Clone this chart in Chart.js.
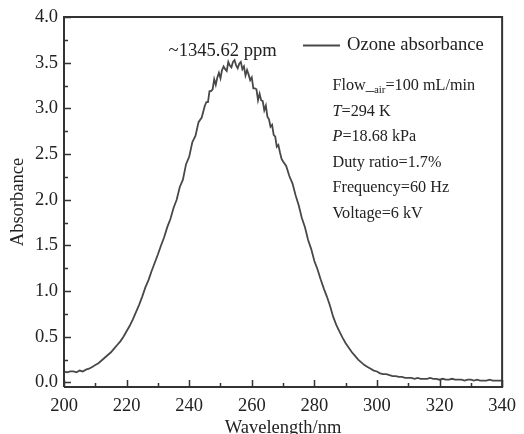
<!DOCTYPE html>
<html>
<head>
<meta charset="utf-8">
<script src="https://cdn.jsdelivr.net/npm/chart.js@4.4.0/dist/chart.umd.min.js"></script>
<style>
  html, body { margin: 0; padding: 0; background: #fff; overflow: hidden; }
  #wrap { width: 524px; height: 444px; }
</style>
</head>
<body>
<div id="wrap"><canvas id="chart" width="524" height="444"></canvas></div>
<script>
// === Dados ===
const wavelengths = [
  200, 201, 202, 203, 204, 205, 206, 207, 208, 209,
  210, 211, 212, 213, 214, 215, 216, 217, 218, 219,
  220, 221, 222, 223, 224, 225, 226, 227, 228, 229,
  230, 231, 232, 233, 234, 235, 236, 237, 238, 239,
  240, 241, 242, 243, 244, 245,
  245.5, 246, 246.5, 247, 247.5, 248, 248.5, 249, 249.5, 250,
  250.5, 251, 251.5, 252, 252.5, 253, 253.5, 254, 254.5, 255,
  255.5, 256, 256.5, 257, 257.5, 258, 258.5, 259, 259.5, 260,
  260.5, 261, 261.5, 262, 262.5, 263, 263.5, 264, 264.5, 265,
  265.5, 266, 266.5, 267, 267.5, 268, 268.5, 269, 269.5, 270,
  271, 272, 273, 274, 275, 276, 277, 278, 279, 280,
  281, 282, 283, 284, 285, 286, 287, 288, 289, 290,
  291, 292, 293, 294, 295, 296, 297, 298, 299, 300,
  301, 302, 303, 304, 305, 306, 307, 308, 309, 310,
  311, 312, 313, 314, 315, 316, 317, 318, 319, 320,
  321, 322, 323, 324, 325, 326, 327, 328, 329, 330,
  331, 332, 333, 334, 335, 336, 337, 338, 339, 340
];
const absorbance = [
  0.12, 0.11, 0.12, 0.12, 0.11, 0.13, 0.12, 0.14, 0.15, 0.17,
  0.19, 0.21, 0.24, 0.27, 0.30, 0.33, 0.37, 0.41, 0.45, 0.50,
  0.56, 0.62, 0.69, 0.77, 0.85, 0.94, 1.04, 1.12, 1.22, 1.31,
  1.40, 1.50, 1.59, 1.70, 1.79, 1.91, 2.00, 2.14, 2.22, 2.39,
  2.47, 2.63, 2.70, 2.85, 2.90, 3.03,
  3.07, 3.07, 3.19, 3.19, 3.21, 3.32, 3.26, 3.34, 3.39, 3.33,
  3.42, 3.46, 3.43, 3.41, 3.51, 3.47, 3.45, 3.51, 3.53, 3.47,
  3.44, 3.49, 3.51, 3.43, 3.46, 3.36, 3.42, 3.37, 3.31, 3.34,
  3.22, 3.22, 3.21, 3.09, 3.16, 3.09, 3.08, 2.98, 3.03, 2.91,
  2.88, 2.80, 2.82, 2.71, 2.69, 2.58, 2.60, 2.52, 2.45, 2.42,
  2.37, 2.26, 2.18, 2.05, 1.94, 1.80, 1.70, 1.56, 1.46, 1.33,
  1.24, 1.13, 1.03, 0.94, 0.84, 0.72, 0.63, 0.56, 0.49, 0.43,
  0.38, 0.33, 0.29, 0.25, 0.22, 0.19, 0.17, 0.15, 0.13, 0.12,
  0.10, 0.09, 0.09, 0.08, 0.07, 0.07, 0.06, 0.06, 0.05, 0.05,
  0.05, 0.04, 0.05, 0.04, 0.04, 0.04, 0.05, 0.04, 0.04, 0.03,
  0.04, 0.03, 0.03, 0.04, 0.03, 0.03, 0.03, 0.02, 0.03, 0.03,
  0.02, 0.03, 0.02, 0.02, 0.02, 0.03, 0.02, 0.02, 0.02, 0.02
];
const xTicks = [200, 220, 240, 260, 280, 300, 320, 340];
const xMinorTicks = [210, 230, 250, 270, 290, 310, 330];
const yTicks = [0.0, 0.5, 1.0, 1.5, 2.0, 2.5, 3.0, 3.5, 4.0];
const yMinorTicks = [0.25, 0.75, 1.25, 1.75, 2.25, 2.75, 3.25, 3.75];

const seriesName = 'Ozone absorbance';
const peakLabel = '~1345.62 ppm';
const peakLabelAt = { x: 250.7, y: 3.63 };

// condições do experimento (texto com itálico / subscrito)
const conditionLines = [
  [{ t: 'Flow' }, { t: '_' }, { t: 'air', sub: true }, { t: '=100 mL/min' }],
  [{ t: 'T', it: true }, { t: '=294 K' }],
  [{ t: 'P', it: true }, { t: '=18.68 kPa' }],
  [{ t: 'Duty ratio=1.7%' }],
  [{ t: 'Frequency=60 Hz' }],
  [{ t: 'Voltage=6 kV' }]
];

// === Estilo ===
const FONT = "'Liberation Serif', 'Times New Roman', serif";
const TEXT = '#222';
const AXIS = '#333';
const LINE = '#484848';

// desenha moldura, ticks internos, legenda e anotações
const decorPlugin = {
  id: 'decor',
  afterDraw(chart) {
    const ctx = chart.ctx;
    const a = chart.chartArea;
    const xs = chart.scales.x;
    const ys = chart.scales.y;
    ctx.save();

    // moldura
    ctx.strokeStyle = AXIS;
    ctx.lineWidth = 2;
    ctx.beginPath();
    ctx.moveTo(a.left, a.bottom);
    ctx.lineTo(a.left, a.top);
    ctx.lineTo(a.right, a.top);
    ctx.lineTo(a.right, a.bottom);
    ctx.lineTo(a.left, a.bottom);
    ctx.stroke();

    // ticks para dentro
    ctx.lineWidth = 1.5;
    ctx.beginPath();
    xTicks.forEach(v => {
      const px = Math.round(xs.getPixelForValue(v)) + 0.5;
      ctx.moveTo(px, a.bottom); ctx.lineTo(px, a.bottom - 7);
    });
    xMinorTicks.forEach(v => {
      const px = Math.round(xs.getPixelForValue(v)) + 0.5;
      ctx.moveTo(px, a.bottom); ctx.lineTo(px, a.bottom - 4);
    });
    yTicks.forEach(v => {
      const py = Math.round(ys.getPixelForValue(v)) + 0.5;
      ctx.moveTo(a.left, py); ctx.lineTo(a.left + 7, py);
    });
    yMinorTicks.forEach(v => {
      const py = Math.round(ys.getPixelForValue(v)) + 0.5;
      ctx.moveTo(a.left, py); ctx.lineTo(a.left + 4, py);
    });
    ctx.stroke();

    // legenda
    ctx.strokeStyle = LINE;
    ctx.lineWidth = 2;
    ctx.beginPath();
    ctx.moveTo(a.left + 239, a.top + 28.5);
    ctx.lineTo(a.left + 276, a.top + 28.5);
    ctx.stroke();
    ctx.fillStyle = TEXT;
    ctx.textBaseline = 'middle';
    ctx.textAlign = 'left';
    ctx.font = '18.6px ' + FONT;
    ctx.fillText(seriesName, a.left + 283, a.top + 28);

    // rótulo do pico
    ctx.textAlign = 'center';
    ctx.fillText(peakLabel, xs.getPixelForValue(peakLabelAt.x), ys.getPixelForValue(peakLabelAt.y));

    // condições
    ctx.textAlign = 'left';
    ctx.textBaseline = 'alphabetic';
    conditionLines.forEach((segs, i) => {
      let x = a.left + 268.5;
      const base = a.top + 73 + i * 25.5;
      segs.forEach(s => {
        if (s.sub) {
          ctx.font = '11px ' + FONT;
          ctx.fillText(s.t, x, base + 3);
        } else {
          ctx.font = (s.it ? 'italic ' : '') + '16.2px ' + FONT;
          ctx.fillText(s.t, x, base);
        }
        x += ctx.measureText(s.t).width;
      });
    });

    ctx.restore();
  }
};

const ctx = document.getElementById('chart').getContext('2d');
const chart = new Chart(ctx, {
  type: 'line',
  data: {
    datasets: [{
      label: seriesName,
      data: wavelengths.map((w, i) => ({ x: w, y: absorbance[i] })),
      borderColor: LINE,
      borderWidth: 1.8,
      pointRadius: 0,
      tension: 0,
      fill: false
    }]
  },
  options: {
    responsive: false,
    animation: false,
    layout: { padding: { top: 14, right: 16, left: 0, bottom: 0 } },
    plugins: {
      legend: { display: false },
      tooltip: { enabled: false }
    },
    scales: {
      x: {
        type: 'linear',
        min: 200,
        max: 340,
        afterBuildTicks: s => { s.ticks = xTicks.map(v => ({ value: v })); },
        afterFit: s => { s.height = 57; },
        ticks: {
          color: TEXT,
          font: { family: FONT, size: 18.5 },
          padding: 8,
          maxRotation: 0,
          callback: v => String(v)
        },
        grid: { display: false, drawTicks: false },
        border: { display: false },
        title: {
          display: true,
          text: 'Wavelength/nm',
          color: TEXT,
          font: { family: FONT, size: 18.5 },
          padding: { top: 0, bottom: 5 }
        }
      },
      y: {
        min: -0.05,
        max: 4.0,
        afterBuildTicks: s => { s.ticks = yTicks.map(v => ({ value: v })); },
        afterFit: s => { s.width = 64; },
        ticks: {
          color: TEXT,
          font: { family: FONT, size: 18.5 },
          padding: 6,
          callback: v => v.toFixed(1)
        },
        grid: { display: false, drawTicks: false },
        border: { display: false },
        title: {
          display: true,
          text: 'Absorbance',
          color: TEXT,
          font: { family: FONT, size: 18.5 },
          padding: { top: 7, bottom: 0 }
        }
      }
    }
  },
  plugins: [decorPlugin]
});
</script>
</body>
</html>
